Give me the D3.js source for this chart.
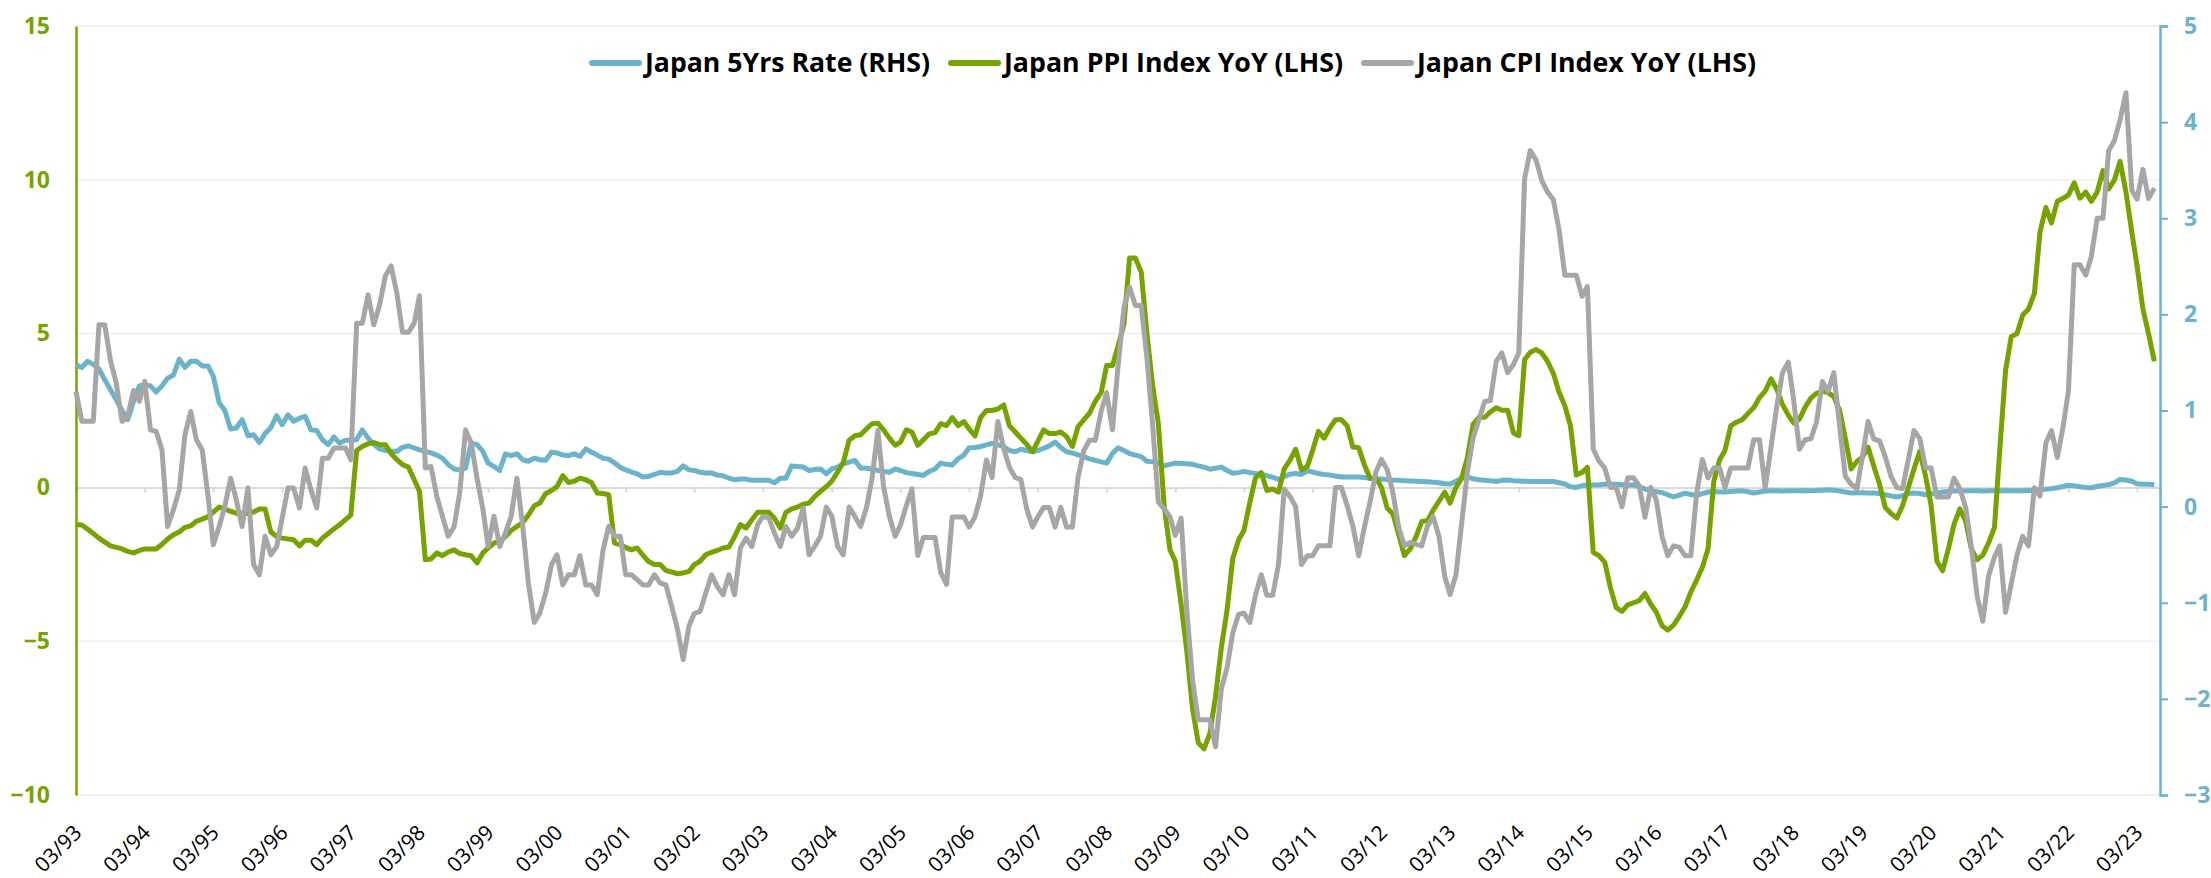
<!DOCTYPE html>
<html>
<head>
<meta charset="utf-8">
<script src="https://cdn.jsdelivr.net/npm/d3@7"></script>
<style>
  body { margin: 0; background: #fff; }
  svg { display: block; font-family: "Open Sans", sans-serif; }
</style>
</head>
<body>
<div id="chart"></div>
<script>
// Monthly values, one row per year starting in March (03/93 ... 06/23)
const rate5y = [
  3.99, 3.90, 4.10, 4.00, 3.85, 3.50, 3.17, 2.85, 2.50, 2.20, 2.80, 3.30,
  3.34, 3.30, 3.10, 3.30, 3.55, 3.65, 4.17, 3.90, 4.10, 4.10, 3.95, 3.95,
  3.61, 2.75, 2.50, 1.90, 1.93, 2.20, 1.68, 1.71, 1.46, 1.75, 1.95, 2.33,
  2.04, 2.36, 2.15, 2.25, 2.31, 1.87, 1.85, 1.55, 1.39, 1.64, 1.44, 1.53,
  1.53, 1.55, 1.87, 1.60, 1.40, 1.25, 1.20, 1.18, 1.17, 1.30, 1.35, 1.28,
  1.22, 1.17, 1.12, 1.05, 0.95, 0.74, 0.60, 0.57, 0.63, 1.44, 1.39, 1.17,
  0.79, 0.68, 0.55, 1.09, 1.03, 1.09, 0.90, 0.85, 0.95, 0.90, 0.88, 1.14,
  1.12, 1.05, 1.03, 1.09, 1.01, 1.25, 1.14, 1.05, 0.95, 0.92, 0.80, 0.65,
  0.57, 0.50, 0.44, 0.34, 0.36, 0.42, 0.49, 0.47, 0.47, 0.52, 0.70, 0.57,
  0.55, 0.49, 0.47, 0.47, 0.40, 0.38, 0.30, 0.25, 0.27, 0.27, 0.23, 0.23,
  0.23, 0.23, 0.15, 0.30, 0.30, 0.70, 0.68, 0.66, 0.55, 0.58, 0.60, 0.44,
  0.60, 0.66, 0.77, 0.82, 0.88, 0.63, 0.62, 0.60, 0.55, 0.52, 0.49, 0.60,
  0.55, 0.48, 0.45, 0.42, 0.39, 0.52, 0.60, 0.79, 0.75, 0.73, 0.93, 1.05,
  1.29, 1.30, 1.33, 1.38, 1.43, 1.38, 1.33, 1.20, 1.16, 1.24, 1.20, 1.16,
  1.20, 1.27, 1.35, 1.47, 1.30, 1.16, 1.12, 1.06, 1.00, 0.93, 0.88, 0.83,
  0.79, 1.10, 1.29, 1.20, 1.10, 1.05, 1.00, 0.85, 0.83, 0.79, 0.70, 0.75,
  0.79, 0.78, 0.77, 0.75, 0.70, 0.66, 0.59, 0.62, 0.66, 0.55, 0.46, 0.48,
  0.52, 0.48, 0.45, 0.43, 0.38, 0.33, 0.26, 0.35, 0.43, 0.45, 0.42, 0.54,
  0.50, 0.45, 0.42, 0.40, 0.37, 0.34, 0.34, 0.34, 0.34, 0.32, 0.30, 0.28,
  0.27, 0.26, 0.24, 0.23, 0.22, 0.21, 0.20, 0.19, 0.18, 0.17, 0.15, 0.12,
  0.11, 0.20, 0.30, 0.34, 0.28, 0.25, 0.23, 0.22, 0.19, 0.23, 0.24, 0.22,
  0.21, 0.20, 0.19, 0.19, 0.19, 0.19, 0.19, 0.15, 0.11, 0.02, 0.00, 0.06,
  0.07, 0.08, 0.08, 0.10, 0.11, 0.10, 0.09, 0.08, 0.08, 0.02, -0.05, -0.11,
  -0.14, -0.17, -0.24, -0.31, -0.25, -0.19, -0.23, -0.26, -0.20, -0.15, -0.13, -0.15,
  -0.15, -0.13, -0.12, -0.11, -0.14, -0.18, -0.15, -0.12, -0.11, -0.11, -0.12, -0.11,
  -0.11, -0.11, -0.10, -0.11, -0.10, -0.09, -0.08, -0.09, -0.12, -0.15, -0.18, -0.17,
  -0.17, -0.18, -0.18, -0.20, -0.24, -0.28, -0.31, -0.27, -0.20, -0.18, -0.20, -0.24,
  -0.22, -0.18, -0.15, -0.13, -0.12, -0.12, -0.11, -0.11, -0.11, -0.12, -0.11, -0.11,
  -0.11, -0.10, -0.11, -0.10, -0.11, -0.10, -0.09, -0.08, -0.06, -0.04, -0.01, 0.03,
  0.07, 0.05, 0.02, 0.00, -0.01, 0.03, 0.06, 0.09, 0.15, 0.26, 0.24, 0.20,
  0.12, 0.10, 0.10, 0.09
];

const ppiYoY = [
  -1.21, -1.22, -1.35, -1.50, -1.65, -1.78, -1.90, -1.95, -2.00, -2.08, -2.13, -2.05,
  -2.00, -2.00, -2.00, -1.85, -1.68, -1.54, -1.45, -1.30, -1.25, -1.10, -1.03, -0.95,
  -0.80, -0.64, -0.70, -0.78, -0.84, -0.86, -0.85, -0.80, -0.70, -0.70, -1.45, -1.60,
  -1.65, -1.68, -1.70, -1.90, -1.72, -1.72, -1.86, -1.65, -1.50, -1.35, -1.21, -1.05,
  -0.90, 1.20, 1.33, 1.42, 1.46, 1.39, 1.39, 1.10, 0.90, 0.74, 0.66, 0.25,
  -0.13, -2.35, -2.33, -2.13, -2.22, -2.10, -2.03, -2.15, -2.19, -2.22, -2.46, -2.13,
  -1.97, -1.81, -1.75, -1.60, -1.40, -1.27, -1.15, -0.90, -0.60, -0.51, -0.20, -0.10,
  0.03, 0.38, 0.16, 0.20, 0.30, 0.25, 0.15, -0.18, -0.20, -0.24, -1.81, -1.86,
  -1.95, -2.03, -1.97, -2.20, -2.41, -2.51, -2.51, -2.70, -2.75, -2.81, -2.78, -2.73,
  -2.51, -2.40, -2.19, -2.11, -2.05, -1.97, -1.94, -1.60, -1.21, -1.32, -1.05, -0.81,
  -0.81, -0.81, -1.00, -1.32, -0.81, -0.70, -0.64, -0.55, -0.51, -0.30, -0.13, 0.03,
  0.20, 0.50, 0.81, 1.53, 1.68, 1.71, 1.90, 2.07, 2.09, 1.87, 1.60, 1.37,
  1.47, 1.87, 1.80, 1.37, 1.55, 1.74, 1.78, 2.07, 2.01, 2.27, 2.01, 2.14,
  1.90, 1.67, 2.27, 2.50, 2.50, 2.55, 2.68, 2.01, 1.80, 1.60, 1.40, 1.16,
  1.50, 1.87, 1.75, 1.75, 1.80, 1.65, 1.33, 1.97, 2.20, 2.41, 2.80, 3.08,
  3.96, 3.96, 4.60, 5.30, 7.46, 7.46, 7.00, 5.00, 3.30, 2.07, -0.62, -2.03,
  -2.40, -3.80, -5.30, -7.20, -8.30, -8.50, -8.00, -6.80, -5.20, -4.00, -2.30, -1.70,
  -1.40, -0.50, 0.30, 0.48, -0.10, -0.05, -0.15, 0.60, 0.89, 1.24, 0.57, 0.68,
  1.20, 1.82, 1.60, 1.94, 2.20, 2.20, 2.00, 1.31, 1.29, 0.74, 0.29, 0.31,
  0.00, -0.68, -0.86, -1.54, -2.22, -2.00, -1.60, -1.11, -1.08, -0.74, -0.45, -0.15,
  -0.51, 0.00, 0.29, 0.97, 2.05, 2.28, 2.28, 2.45, 2.59, 2.51, 2.51, 1.77,
  1.68, 4.16, 4.39, 4.48, 4.37, 4.10, 3.70, 3.10, 2.65, 2.00, 0.40, 0.49,
  0.65, -2.11, -2.22, -2.43, -3.25, -3.91, -4.03, -3.82, -3.75, -3.68, -3.45, -3.80,
  -4.05, -4.50, -4.64, -4.48, -4.20, -3.88, -3.40, -3.02, -2.60, -2.00, 0.20, 0.90,
  1.20, 2.00, 2.12, 2.20, 2.40, 2.59, 2.92, 3.13, 3.53, 3.20, 2.70, 2.35,
  2.10, 2.22, 2.60, 2.90, 3.06, 3.13, 3.08, 2.95, 2.50, 1.60, 0.60, 0.85,
  0.97, 1.31, 0.70, 0.10, -0.65, -0.85, -1.00, -0.60, 0.00, 0.60, 1.17, 0.36,
  -0.58, -2.40, -2.71, -2.00, -1.20, -0.70, -1.10, -2.00, -2.35, -2.20, -1.80, -1.30,
  1.20, 3.80, 4.90, 5.00, 5.60, 5.80, 6.30, 8.30, 9.10, 8.60, 9.30, 9.40,
  9.50, 9.90, 9.40, 9.60, 9.30, 9.60, 10.30, 9.70, 10.00, 10.60, 9.60, 8.30,
  7.20, 5.80, 5.00, 4.10
];

const cpiYoY = [
  3.12, 2.15, 2.15, 2.15, 5.29, 5.29, 4.10, 3.39, 2.15, 2.31, 3.15, 2.80,
  3.45, 1.87, 1.82, 1.22, -1.27, -0.73, -0.08, 1.71, 2.47, 1.55, 1.22, -0.29,
  -1.86, -1.27, -0.62, 0.30, -0.40, -1.27, -0.02, -2.51, -2.84, -1.59, -2.19, -1.92,
  -1.00, -0.02, -0.02, -0.67, 0.63, -0.08, -0.67, 0.95, 0.95, 1.28, 1.28, 1.28,
  0.90, 5.34, 5.34, 6.26, 5.29, 5.94, 6.88, 7.20, 6.31, 5.04, 5.04, 5.34,
  6.23, 0.63, 0.68, -0.29, -0.94, -1.59, -1.27, -0.18, 1.87, 1.44, 0.30, -0.70,
  -1.92, -0.94, -1.92, -1.48, -0.94, 0.30, -1.27, -3.11, -4.39, -4.08, -3.43, -2.51,
  -2.19, -3.17, -2.84, -2.84, -2.22, -3.17, -3.17, -3.49, -2.03, -1.27, -1.59, -1.59,
  -2.84, -2.84, -3.00, -3.17, -3.17, -2.84, -3.11, -3.17, -3.87, -4.60, -5.60, -4.50,
  -4.10, -4.03, -3.43, -2.84, -3.22, -3.49, -2.84, -3.49, -1.97, -1.65, -1.92, -1.21,
  -0.94, -1.00, -1.48, -1.92, -1.27, -1.59, -1.32, -0.67, -2.19, -1.92, -1.59, -0.64,
  -0.94, -1.92, -2.19, -0.64, -0.94, -1.27, -0.67, 0.30, 1.85, 0.03, -0.94, -1.59,
  -1.22, -0.60, -0.05, -2.21, -1.63, -1.63, -1.63, -2.77, -3.15, -0.96, -0.96, -0.96,
  -1.29, -0.96, -0.28, 0.89, 0.32, 2.14, 1.26, 0.66, 0.32, 0.26, -0.69, -1.29,
  -0.96, -0.65, -0.65, -1.29, -0.65, -1.29, -1.29, 0.32, 1.20, 1.53, 1.53, 2.48,
  3.08, 1.87, 3.96, 5.84, 6.51, 5.91, 5.91, 4.23, 2.01, -0.48, -0.70, -0.96,
  -1.56, -1.00, -3.98, -6.27, -7.55, -7.55, -7.55, -8.43, -6.54, -5.87, -4.72, -4.12,
  -4.09, -4.39, -3.51, -2.84, -3.51, -3.51, -2.50, -0.05, -0.30, -0.62, -2.51, -2.22,
  -2.22, -1.90, -1.90, -1.90, 0.00, 0.00, -0.60, -1.25, -2.22, -1.30, -0.46, 0.51,
  0.91, 0.57, -0.17, -1.31, -1.90, -1.79, -1.85, -1.90, -1.25, -0.95, -1.60, -2.91,
  -3.48, -2.85, -1.20, 0.51, 1.60, 2.20, 2.79, 2.82, 4.10, 4.37, 3.73, 4.00,
  4.37, 10.03, 10.95, 10.64, 9.98, 9.60, 9.35, 8.38, 6.90, 6.90, 6.90, 6.21,
  6.53, 1.25, 0.86, 0.63, 0.00, 0.00, -0.63, 0.31, 0.31, 0.06, -0.97, 0.00,
  -0.40, -1.60, -2.22, -1.90, -1.94, -2.22, -2.22, -0.23, 0.91, 0.31, 0.63, 0.63,
  -0.01, 0.63, 0.63, 0.63, 0.63, 1.55, 1.55, -0.01, 1.30, 2.60, 3.73, 4.07,
  2.86, 1.24, 1.55, 1.58, 2.12, 3.44, 3.13, 3.73, 1.98, 0.36, 0.10, -0.04,
  0.97, 2.14, 1.58, 1.51, 1.00, 0.36, -0.01, -0.04, 0.90, 1.85, 1.58, 0.63,
  0.63, -0.31, -0.31, -0.31, 0.30, -0.04, -0.65, -1.93, -3.54, -4.35, -2.87, -2.26,
  -1.90, -4.06, -3.14, -2.20, -1.59, -1.90, -0.01, -0.28, 1.44, 1.85, 0.97, 1.98,
  3.13, 7.24, 7.24, 6.90, 7.51, 8.75, 8.75, 10.94, 11.28, 11.95, 12.83, 9.66,
  9.37, 10.34, 9.39, 9.73
];

const leftTicks = [-10, -5, 0, 5, 10, 15];
const rightTicks = [-3, -2, -1, 0, 1, 2, 3, 4, 5];
const seriesNames = ["Japan 5Yrs Rate (RHS)", "Japan PPI Index YoY (LHS)", "Japan CPI Index YoY (LHS)"];
const seriesColors = ["#6bb3cb", "#76a300", "#a6a6a6"];

const width = 2211, height = 878;
const margin = { top: 26, right: 51, bottom: 83, left: 76 };

const svg = d3.select("#chart").append("svg")
    .attr("width", width)
    .attr("height", height);

const months = rate5y.map((d, i) => new Date(1993, 2 + i, 1));
const yearTicks = d3.range(0, 31).map(k => new Date(1993 + k, 2, 1));

const x = d3.scaleTime()
    .domain([new Date(1993, 2, 1), new Date(2023, 6, 1)])
    .range([margin.left, width - margin.right]);
const yL = d3.scaleLinear().domain([-10, 15]).range([height - margin.bottom, margin.top]);
const yR = d3.scaleLinear().domain([-3, 5]).range([height - margin.bottom, margin.top]);

// gridlines
svg.append("g")
  .selectAll("line")
  .data(leftTicks.filter(d => d !== 0))
  .enter().append("line")
    .attr("x1", margin.left).attr("x2", width - margin.right)
    .attr("y1", d => yL(d)).attr("y2", d => yL(d))
    .attr("stroke", "#eeeeee")
    .attr("stroke-width", 1.5);

// zero line with year ticks
const xAxis = svg.append("g")
    .attr("transform", `translate(0,${yL(0)})`)
    .call(d3.axisBottom(x).tickValues(yearTicks).tickSize(5).tickFormat(""));
xAxis.select(".domain").attr("stroke", "#d9d9d9").attr("stroke-width", 2);
xAxis.selectAll(".tick line").attr("stroke", "#d9d9d9").attr("stroke-width", 2);

// bottom date labels
svg.append("g")
  .selectAll("text")
  .data(yearTicks)
  .enter().append("text")
    .attr("transform", d => `translate(${x(d) + 7},${height - margin.bottom + 39}) rotate(-45)`)
    .attr("text-anchor", "end")
    .attr("font-size", 21)
    .attr("fill", "#000")
    .text(d3.timeFormat("%m/%y"));

// left axis
const leftAxis = svg.append("g")
    .attr("transform", `translate(${margin.left},0)`)
    .call(d3.axisLeft(yL).tickValues(leftTicks).tickSize(0).tickPadding(26));
leftAxis.select(".domain").attr("stroke", "#76a300").attr("stroke-width", 2.5);
leftAxis.selectAll("text")
    .attr("fill", "#76a300")
    .attr("font-size", 23)
    .attr("font-weight", 700)
    .attr("font-family", "Open Sans, sans-serif");

// right axis
const rightAxis = svg.append("g")
    .attr("transform", `translate(${width - margin.right},0)`)
    .call(d3.axisRight(yR).tickValues(rightTicks).tickSize(8).tickPadding(16));
rightAxis.select(".domain").attr("stroke", "#6bb3cb").attr("stroke-width", 2.5);
rightAxis.selectAll(".tick line").attr("stroke", "#6bb3cb").attr("stroke-width", 2);
rightAxis.selectAll("text")
    .attr("fill", "#6bb3cb")
    .attr("font-size", 23)
    .attr("font-weight", 700)
    .attr("font-family", "Open Sans, sans-serif");

// lines (the rate series sits on the left scale in the source chart)
const line = d3.line()
    .x((d, i) => x(months[i]))
    .y(d => yL(d));

[rate5y, ppiYoY, cpiYoY].forEach(function (values, k) {
  svg.append("path")
    .datum(values)
    .attr("fill", "none")
    .attr("stroke", seriesColors[k])
    .attr("stroke-width", 5)
    .attr("stroke-linejoin", "round")
    .attr("d", line);
});

// legend
const legendWidths = [285, 339, 339];
const legend = svg.append("g").attr("transform", "translate(589,63)");
let lx = 0;
seriesNames.forEach(function (name, k) {
  legend.append("line")
    .attr("x1", lx + 3).attr("x2", lx + 50)
    .attr("y1", 0).attr("y2", 0)
    .attr("stroke", seriesColors[k])
    .attr("stroke-width", 6)
    .attr("stroke-linecap", "round");
  legend.append("text")
    .attr("x", lx + 56)
    .attr("y", 9)
    .attr("font-size", 26)
    .attr("font-weight", 700)
    .attr("textLength", legendWidths[k])
    .attr("lengthAdjust", "spacingAndGlyphs")
    .attr("fill", "#000")
    .text(name);
  lx += 56 + legendWidths[k] + 18;
});
</script>
</body>
</html>
